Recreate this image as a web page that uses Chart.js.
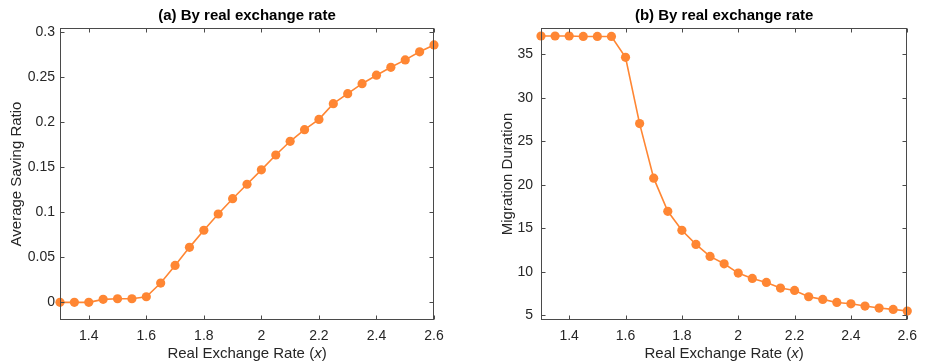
<!DOCTYPE html>
<html>
<head>
<meta charset="utf-8">
<script src="https://cdn.jsdelivr.net/npm/chart.js@4"></script>
<style>
  body { margin: 0; background: #fff; }
  .wrap { position: absolute; top: 0; height: 363px; }
  #left { left: 0; width: 465px; }
  #right { left: 465px; width: 460px; }
</style>
</head>
<body>
<div class="wrap" id="left"><canvas id="chartA"></canvas></div>
<div class="wrap" id="right"><canvas id="chartB"></canvas></div>
<script>
// data
const exchangeRate = [1.3, 1.35, 1.4, 1.45, 1.5, 1.55, 1.6, 1.65, 1.7, 1.75, 1.8, 1.85, 1.9, 1.95,
  2.0, 2.05, 2.1, 2.15, 2.2, 2.25, 2.3, 2.35, 2.4, 2.45, 2.5, 2.55, 2.6];
const savingRatio = [0, 0, 0, 0.0033, 0.004, 0.004, 0.0062, 0.0214, 0.041, 0.061, 0.080, 0.098, 0.115, 0.131,
  0.147, 0.1635, 0.1787, 0.1916, 0.203, 0.2204, 0.2315, 0.2426, 0.252, 0.2608, 0.269, 0.278, 0.2856];
const migrationDuration = [37.1, 37.1, 37.1, 37.05, 37.05, 37.05, 34.65, 27.03, 20.76, 16.95, 14.77, 13.15, 11.77, 10.92,
  9.85, 9.24, 8.78, 8.13, 7.86, 7.13, 6.83, 6.48, 6.32, 6.06, 5.83, 5.68, 5.49];
const xTicks = [1.4, 1.6, 1.8, 2, 2.2, 2.4, 2.6];
const savingTicks = [0, 0.05, 0.1, 0.15, 0.2, 0.25, 0.3];
const durationTicks = [5, 10, 15, 20, 25, 30, 35];

const orange = '#ff8633';
const ink = '#262626';
const axisColor = '#4a4a4a';
const fontFamily = '"Liberation Sans", Arial, Helvetica, sans-serif';

// box with inward ticks, title and x label (italic x)
const framePlugin = {
  id: 'frame',
  afterDraw(chart, args, opts) {
    const { ctx, chartArea: a } = chart;
    const L = Math.round(a.left) + 0.5, R = Math.round(a.right) - 0.5;
    const T = Math.round(a.top) + 0.5, B = Math.round(a.bottom) - 0.5;
    ctx.save();
    ctx.strokeStyle = axisColor;
    ctx.lineWidth = 1;
    ctx.strokeRect(L, T, R - L, B - T);
    const len = 4;
    ctx.beginPath();
    chart.scales.x.ticks.forEach(t => {
      const px = Math.round(chart.scales.x.getPixelForValue(t.value)) + 0.5;
      ctx.moveTo(px, B); ctx.lineTo(px, B - len);
      ctx.moveTo(px, T); ctx.lineTo(px, T + len);
    });
    chart.scales.y.ticks.forEach(t => {
      const py = Math.round(chart.scales.y.getPixelForValue(t.value)) + 0.5;
      ctx.moveTo(L, py); ctx.lineTo(L + len, py);
      ctx.moveTo(R, py); ctx.lineTo(R - len, py);
    });
    ctx.stroke();

    const cx = (a.left + a.right) / 2;
    ctx.fillStyle = '#000';
    ctx.textAlign = 'center';
    ctx.textBaseline = 'middle';
    ctx.font = 'bold 15px ' + fontFamily;
    ctx.fillText(opts.title, cx, 16);

    // x axis label with italic x
    ctx.fillStyle = ink;
    ctx.textAlign = 'left';
    const normal = '15px ' + fontFamily, italic = 'italic 15px ' + fontFamily;
    const parts = [['Real Exchange Rate (', normal], ['x', italic], [')', normal]];
    let total = 0;
    parts.forEach(p => { ctx.font = p[1]; total += ctx.measureText(p[0]).width; });
    let x = cx - total / 2;
    parts.forEach(p => {
      ctx.font = p[1];
      ctx.fillText(p[0], x, 354);
      x += ctx.measureText(p[0]).width;
    });
    ctx.restore();
  }
};

function makeChart(id, values, yTicks, yMin, yMax, yTitle, yWidth, yPad, titlePad, padRight, title) {
  return new Chart(document.getElementById(id), {
    type: 'line',
    data: {
      datasets: [{
        data: exchangeRate.map((x, i) => ({ x: x, y: values[i] })),
        borderColor: orange,
        backgroundColor: orange,
        borderWidth: 1.6,
        pointRadius: 4.6,
        pointHoverRadius: 4.6,
        pointBorderWidth: 0,
        tension: 0,
        clip: false,
      }],
    },
    options: {
      responsive: true,
      maintainAspectRatio: false,
      animation: false,
      layout: { padding: { top: 28, right: padRight, bottom: 0, left: 0 } },
      plugins: {
        legend: { display: false },
        tooltip: { enabled: false },
        frame: { title: title },
      },
      scales: {
        x: {
          type: 'linear',
          min: 1.3,
          max: 2.6,
          grid: { display: false, drawTicks: false },
          border: { display: false },
          afterBuildTicks: s => { s.ticks = xTicks.map(v => ({ value: v })); },
          afterFit: s => { s.height = 43; },
          ticks: {
            padding: 8,
            color: ink,
            font: { family: fontFamily, size: 14 },
            maxRotation: 0,
            callback: v => String(v),
          },
        },
        y: {
          min: yMin,
          max: yMax,
          grid: { display: false, drawTicks: false },
          border: { display: false },
          afterBuildTicks: s => { s.ticks = yTicks.map(v => ({ value: v })); },
          afterFit: s => { s.width = yWidth; },
          ticks: {
            padding: yPad,
            color: ink,
            font: { family: fontFamily, size: 14 },
            callback: v => String(v),
          },
          title: {
            display: true,
            text: yTitle,
            color: ink,
            font: { family: fontFamily, size: 15 },
            padding: { top: titlePad, bottom: 0 },
          },
        },
      },
    },
    plugins: [framePlugin],
  });
}

makeChart('chartA', savingRatio, savingTicks, -0.0196, 0.3044, 'Average Saving Ratio', 60, 5, 8, 31,
  '(a) By real exchange rate');
makeChart('chartB', migrationDuration, durationTicks, 4.46, 38.02, 'Migration Duration', 76, 8, 34, 9,
  '(b) By real exchange rate');
</script>
</body>
</html>
